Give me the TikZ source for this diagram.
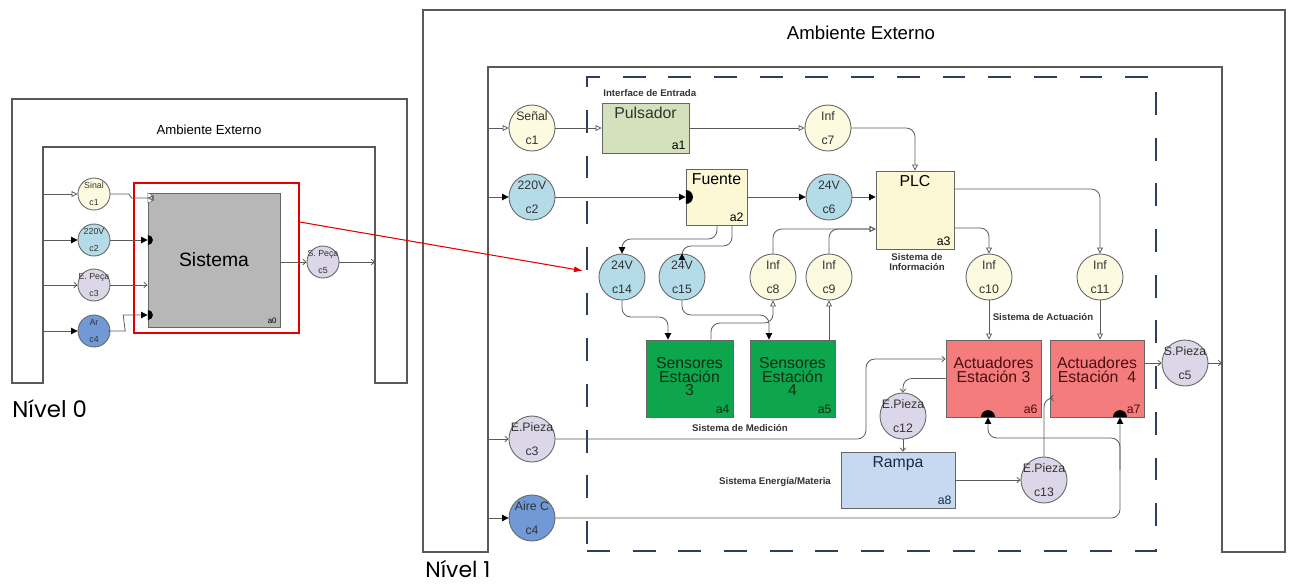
\documentclass[tikz,border=0pt]{standalone}
\usepackage{fontspec}
\setmainfont{Liberation Sans}
\newfontfamily\levelfont{Poppins}
\usetikzlibrary{positioning, arrows.meta, shapes.geometric, calc}

\definecolor{infoY}{HTML}{FCFADF}
\definecolor{voltB}{HTML}{B4DCE8}
\definecolor{pieceL}{HTML}{DCD7E8}
\definecolor{airB}{HTML}{7099D6}
\definecolor{pushG}{HTML}{D3E1BD}
\definecolor{plcY}{HTML}{FCF8D6}
\definecolor{sensG}{HTML}{0DA64C}
\definecolor{actR}{HTML}{F47C7C}
\definecolor{rampB}{HTML}{C6D9F0}
\definecolor{sysGray}{HTML}{B7B7B7}
\definecolor{dashN}{HTML}{2E3F5C}
\definecolor{wireG}{HTML}{5A5A5A}
\definecolor{sensT}{HTML}{0B2E14}
\definecolor{actT}{HTML}{4A0F0F}
\definecolor{rampT}{HTML}{1B2B45}

\begin{document}
\begin{tikzpicture}[x=0.2mm, y=-0.2mm,
    wire/.style={draw=wireG, line width=0.45pt, rounded corners=5pt},
    opn/.style={-{Triangle[open, length=3.4pt, width=3.4pt]}},
    fil/.style={-{Triangle[length=3.6pt, width=3.6pt, color=black]}},
    sml/.style={-{Straight Barb[length=1.8pt, width=3.2pt]}},
    circ/.style={circle, draw=black!60, line width=0.5pt, minimum size=9.2mm, inner sep=-3pt,
                 align=center, text=black!80, font=\fontsize{7}{13.6}\selectfont},
    scirc/.style={circ, minimum size=6.4mm, font=\fontsize{5}{9.5}\selectfont},
    blk/.style={rectangle, draw=black!60, line width=0.5pt, inner sep=0pt},
    ttl/.style={anchor=north, align=center, font=\fontsize{9}{7.7}\selectfont, inner sep=2.5pt},
    idx/.style={anchor=south east, font=\fontsize{7}{8}\selectfont, inner sep=2pt},
    port/.style={semicircle, fill=black, inner sep=0pt, minimum width=2.7mm, minimum height=1.4mm, anchor=chord center},
    grp/.style={font=\fontsize{5.5}{6}\selectfont\bfseries, text=black!80, align=center, inner sep=0pt},
    frame/.style={draw=black!65, line width=0.8pt}
]
\useasboundingbox (0,0) rectangle (1290,586);

% ---------------- Nivel 0 ----------------
\draw[frame] (12,383) -- (12,99) -- (407,99) -- (407,383) -- (375,383) -- (375,147) -- (43,147) -- (43,383) -- cycle;
\coordinate (fl) at (43,0);
\coordinate (fr) at (375,0);
\node[font=\fontsize{7.5}{9}\selectfont] (envL) at (209,130) {Ambiente Externo};

\node[blk, fill=sysGray, minimum width=26.4mm, minimum height=26.8mm, font=\fontsize{11}{13}\selectfont,
      label={[idx, font=\fontsize{4.5}{5}\selectfont]south east:a0}] (a0) at (214,260) {Sistema};
\node[draw=red!90!black, line width=1.1pt, minimum width=33mm, minimum height=30mm, inner sep=0pt] (sel) at (216.5,258) {};

\node[scirc, fill=infoY] (s1) at (94,194) {Sinal\\c1};
\node[scirc, fill=voltB] (s2) at (94,240) {220V\\c2};
\node[scirc, fill=pieceL] (s3) at (94,285) {E. Peça\\c3};
\node[scirc, fill=airB] (s4) at (94,331) {Ar\\c4};
\node[scirc, fill=pieceL] (s5) at (323,262) {S. Peça\\c5};

% entry ports of the system block
\node[port, fill=white, draw=black!60, line width=0.3pt, minimum width=2mm, minimum height=1mm, rotate=-90] (q1) at (a0.west |- 0,198) {};
\node[port, minimum width=2mm, minimum height=1mm, rotate=-90] (q2) at (a0.west |- s2) {};
\node[port, minimum width=2mm, minimum height=1mm, rotate=-90] (q4) at (a0.west |- 0,315) {};

\draw[wire, opn] (s1.west -| fl) -- (s1.west);
\draw[wire, opn] (s1.east) -- ++(10,0) to[out=0, in=180] (q1.chord center -| 140,0) -- (q1.chord center);
\draw[wire, fil] (s2.west -| fl) -- (s2.west);
\draw[wire, fil] (s2.east) -- (q2.chord center);
\draw[wire, sml] (s3.west -| fl) -- (s3.west);
\draw[wire, sml] (s3.east) -- (a0.west |- s3);
\draw[wire, fil] (s4.west -| fl) -- (s4.west);
\draw[wire, fil] (s4.east) -- ++(6,0) to[out=0, in=180] (q4.chord center -| 132,0) -- (q4.chord center);
\draw[wire, sml] (a0.east |- s5) -- (s5.west);
\draw[wire, sml] (s5.east) -- (s5.east -| fr);

\node[font={\levelfont\fontsize{13}{15}\selectfont}, anchor=base west, inner sep=0pt] (lvl0) at (12,417) {Nível 0};

% ---------------- Nivel 1 ----------------
\draw[frame] (423,552) -- (423,10) -- (1285,10) -- (1285,552) -- (1222,552) -- (1222,67) -- (488,67) -- (488,552) -- cycle;
\coordinate (gl) at (488,0);
\coordinate (gr) at (1222,0);
\node[font=\fontsize{10.6}{12}\selectfont] (envR) at (861,33) {Ambiente Externo};
\node[draw=dashN, line width=1.4pt, dash pattern=on 13pt off 13pt, minimum width=113.8mm, minimum height=94.8mm, inner sep=0pt] (sys) at (871.5,314) {};

% subsystem captions
\node[grp, anchor=west] (gIn) at (603,93) {Interface de Entrada};
\node[grp] (gInfo) at (917,262) {Sistema de\\Información};
\node[grp] (gAct) at (1043,317) {Sistema de Actuación};
\node[grp] (gMed) at (740,428) {Sistema de Medición};
\node[grp] (gEM) at (775,482) {Sistema Energía/Materia};

% blocks
\node[blk, fill=pushG, minimum width=17.4mm, minimum height=10mm,
      label={[ttl, text=black!80]north:Pulsador}, label={[idx]south east:a1}] (a1) at (645.5,128) {};
\node[blk, fill=plcY, minimum width=12.2mm, minimum height=11.2mm,
      label={[ttl]north:Fuente}, label={[idx]south east:a2}] (a2) at (716.5,197) {};
\node[blk, fill=plcY, minimum width=15.6mm, minimum height=15.6mm,
      label={[ttl]north:PLC}, label={[idx]south east:a3}] (a3) at (915,210) {};
\node[blk, fill=sensG, minimum width=17.4mm, minimum height=15.4mm,
      label={[ttl, yshift=-7.5pt, text=sensT]north:Sensores\\Estación\\3}, label={[idx, text=sensT]south east:a4}] (a4) at (689.5,378.5) {};
\node[blk, fill=sensG, minimum width=17mm, minimum height=15.4mm,
      label={[ttl, yshift=-7.5pt, text=sensT]north:Sensores\\Estación\\4}, label={[idx, text=sensT]south east:a5}] (a5) at (792.5,378.5) {};
\node[blk, fill=actR, minimum width=19mm, minimum height=15.4mm,
      label={[ttl, yshift=-7.5pt, text=actT]north:Actuadores\\Estación 3}, label={[idx, text=actT]south east:a6}] (a6) at (993.5,378.5) {};
\node[blk, fill=actR, minimum width=18.8mm, minimum height=15.4mm,
      label={[ttl, yshift=-7.5pt, text=actT]north:Actuadores\\Estación\ \ 4}, label={[idx, text=actT]south east:a7}] (a7) at (1097,378.5) {};
\node[blk, fill=rampB, minimum width=22.8mm, minimum height=11.2mm,
      label={[ttl, text=rampT]north:Rampa}, label={[idx, text=rampT]south east:a8}] (a8) at (898,480) {};

% flows
\node[circ, fill=infoY] (c1) at (532,128) {Señal\\c1};
\node[circ, fill=voltB] (c2) at (532,197) {220V\\c2};
\node[circ, fill=pieceL] (c3) at (532,439) {E.Pieza\\c3};
\node[circ, fill=airB] (c4) at (532,518) {Aire C\\c4};
\node[circ, fill=infoY] (c7) at (828,128) {Inf\\c7};
\node[circ, fill=voltB] (c6) at (829,197) {24V\\c6};
\node[circ, fill=voltB] (c14) at (622,277) {24V\\c14};
\node[circ, fill=voltB] (c15) at (682,277) {24V\\c15};
\node[circ, fill=infoY] (c8) at (773,277) {Inf\\c8};
\node[circ, fill=infoY] (c9) at (829,277) {Inf\\c9};
\node[circ, fill=infoY] (c10) at (989,277) {Inf\\c10};
\node[circ, fill=infoY] (c11) at (1100,277) {Inf\\c11};
\node[circ, fill=pieceL] (c5) at (1185,363) {S.Pieza\\c5};
\node[circ, fill=pieceL] (c12) at (903,416) {E.Pieza\\c12};
\node[circ, fill=pieceL] (c13) at (1044,480) {E.Pieza\\c13};

% energy ports
\node[port, rotate=-90] (p2) at (a2.west |- c2) {};
\node[port] (p6) at (a6.south -| 988,0) {};
\node[port] (p7) at (a7.south -| 1120,0) {};

% information
\draw[wire, opn] (c1.west -| gl) -- (c1.west);
\draw[wire, opn] (c1.east) -- (a1.west);
\draw[wire, opn] (a1.east) -- (c7.west);
\draw[wire, opn] (c7.east) -| (a3.north);
\draw[wire, opn] (a4.north -| 711,0) |- (773,323) -- (c8.south);
\draw[wire, opn] (a5.north -| c9) -- (c9.south);
\draw[wire, opn] (c8.north) |- (a3.west |- 0,229);
\draw[wire, opn] (c9.north) |- (a3.west |- 0,229);
\draw[wire, opn] (a3.east |- 0,228) -| (c10.north);
\draw[wire, opn] (a3.east |- 0,189) -| (c11.north);
\draw[wire, opn] (c10.south) -- (a6.north -| c10);
\draw[wire, opn] (c11.south) -- (a7.north -| c11);

% energy
\draw[wire, fil] (c2.west -| gl) -- (c2.west);
\draw[wire, fil] (c2.east) -- (p2.chord center);
\draw[wire, fil] (a2.east) -- (c6.west);
\draw[wire, fil] (c6.east) -- (a3.west |- c6);
\draw[wire, fil] (a2.south -| 717,0) |- (622,239) -- (c14.north);
\draw[wire, fil] (a2.south -| 732,0) |- (682,246) -- (c15.north);
\draw[wire, fil] (c14.south) |- (668,317) -- (a4.north -| 668,0);
\draw[wire, fil] (c15.south) |- (769,315) -- (a5.north -| 769,0);
\draw[wire, fil] (c4.west -| gl) -- (c4.west);
\draw[wire, fil] (c4.east) -| (p7.chord center);
\draw[wire, fil] (1120,470) |- (988,438) -- (p6.chord center);

% material
\draw[wire, sml] (c3.west -| gl) -- (c3.west);
\draw[wire, sml] (c3.east) -| (866,359) -- (a6.west |- 0,359);
\draw[wire, sml] (a6.west) -| (c12.north);
\draw[wire, sml] (c12.south) -- (a8.north -| c12);
\draw[wire, sml] (a8.east |- c13) -- (c13.west);
\draw[wire, sml] (c13.north) |- (a7.west |- 0,398);
\draw[wire, sml] (a7.east |- c5) -- (c5.west);
\draw[wire, sml] (c5.east) -- (c5.east -| gr);

% zoom from level 0 to level 1
\draw[red!90!black, line width=0.6pt, -{Latex[length=5pt, width=3.5pt]}] ($(sel.north east)+(0,40)$) -- ($(sys.north west)+(-3,195)$);

\node[font={\levelfont\fontsize{12.5}{15}\selectfont}, anchor=base west, inner sep=0pt] (lvl1) at (425,577) {Nível 1};

\end{tikzpicture}
\end{document}
